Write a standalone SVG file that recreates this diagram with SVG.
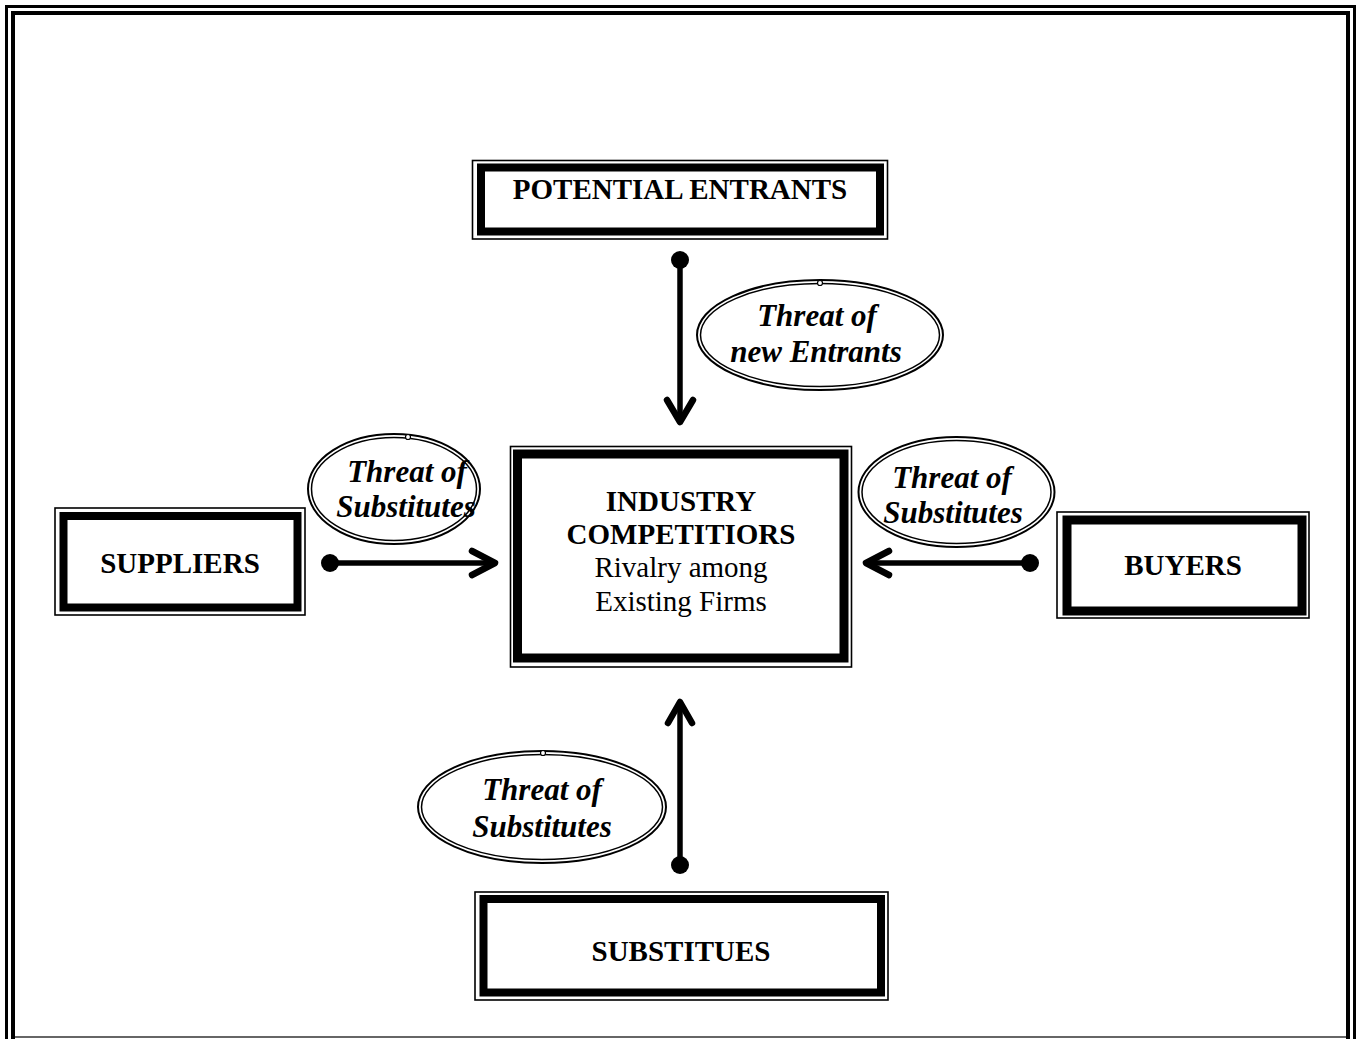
<svg xmlns="http://www.w3.org/2000/svg" width="1361" height="1039" viewBox="0 0 1361 1039">
<defs>
<style>
.thin{fill:none;stroke:#000;stroke-width:1.6}
.thick{fill:none;stroke:#000}
.bold{font-family:"Liberation Serif","Times New Roman",serif;font-weight:bold;font-size:29px;text-anchor:middle;fill:#000}
.reg{font-family:"Liberation Serif","Times New Roman",serif;font-size:29px;text-anchor:middle;fill:#000}
.ital{font-family:"Liberation Serif","Times New Roman",serif;font-weight:bold;font-style:italic;font-size:31px;text-anchor:middle;fill:#000}
.eo{fill:#fff;stroke:#000;stroke-width:2}
.ei{fill:none;stroke:#000;stroke-width:1.5}
.knob{fill:#fff;stroke:#000;stroke-width:1.2}
.line{fill:none;stroke:#000;stroke-width:5.5}
.head{fill:none;stroke:#000;stroke-width:6.5;stroke-linecap:round;stroke-linejoin:round}
.dot{fill:#000}
</style>
</defs>
<rect width="1361" height="1039" fill="#fff"/>
<g id="frame">
<rect x="6.5" y="6.5" width="1348" height="1100" fill="none" stroke="#000" stroke-width="3"/>
<rect x="13" y="13" width="1335" height="1100" fill="none" stroke="#000" stroke-width="4"/>
<line x1="15" y1="1037" x2="1346" y2="1037" stroke="#333" stroke-width="1.5"/>
</g>
<g id="connectors">
<line class="line" x1="680" y1="260" x2="680" y2="420"/>
<circle class="dot" cx="680" cy="260" r="9"/>
<polyline class="head" points="667,400 680,422 693,400"/>
<line class="line" x1="330" y1="563" x2="492" y2="563"/>
<circle class="dot" cx="330" cy="563" r="9"/>
<polyline class="head" points="472,551 495,563 472,575"/>
<line class="line" x1="1030" y1="563" x2="868" y2="563"/>
<circle class="dot" cx="1030" cy="563" r="9"/>
<polyline class="head" points="889,551 866,563 889,575"/>
<line class="line" x1="680" y1="865" x2="680" y2="705"/>
<circle class="dot" cx="680" cy="865" r="9"/>
<polyline class="head" points="668,723 680,702 692,723"/>
</g>
<g id="potential-entrants">
<rect class="thin" x="472.5" y="160.5" width="415" height="78.5"/>
<rect class="thick" stroke-width="8" x="481" y="167.5" width="399" height="64"/>
<text class="bold" x="680" y="199">POTENTIAL ENTRANTS</text>
</g>
<g id="industry-competitors">
<rect class="thin" x="510.5" y="446.5" width="341" height="220.5"/>
<rect class="thick" stroke-width="9" x="517.5" y="454" width="326.5" height="204"/>
<text class="bold" x="681" y="511">INDUSTRY</text>
<text class="bold" x="681" y="544">COMPETITIORS</text>
<text class="reg" x="681" y="577">Rivalry among</text>
<text class="reg" x="681" y="611">Existing Firms</text>
</g>
<g id="suppliers">
<rect class="thin" x="55" y="508" width="250" height="107"/>
<rect class="thick" stroke-width="8" x="63.5" y="516" width="234" height="91.5"/>
<text class="bold" x="180" y="573">SUPPLIERS</text>
</g>
<g id="buyers">
<rect class="thin" x="1057" y="512" width="252" height="106"/>
<rect class="thick" stroke-width="9" x="1067" y="520" width="235" height="91"/>
<text class="bold" x="1183" y="575">BUYERS</text>
</g>
<g id="substitues">
<rect class="thin" x="475" y="892" width="413" height="108"/>
<rect class="thick" stroke-width="8" x="483.5" y="899" width="397.5" height="93.5"/>
<text class="bold" x="681" y="961">SUBSTITUES</text>
</g>
<g id="threat-new-entrants">
<ellipse class="eo" cx="820" cy="335" rx="123" ry="55"/>
<ellipse class="ei" cx="820" cy="335" rx="119.5" ry="51.5"/>
<circle class="knob" cx="820" cy="283" r="2.5"/>
<text class="ital" x="817" y="326">Threat of</text>
<text class="ital" x="816" y="362">new Entrants</text>
</g>
<g id="threat-substitutes-left">
<ellipse class="eo" cx="394" cy="489" rx="86" ry="55"/>
<ellipse class="ei" cx="394" cy="489" rx="82.5" ry="51.5"/>
<circle class="knob" cx="408" cy="437" r="2.5"/>
<text class="ital" x="407" y="482">Threat of</text>
<text class="ital" x="406" y="517">Substitutes</text>
</g>
<g id="threat-substitutes-right">
<ellipse class="eo" cx="956.5" cy="492" rx="98" ry="55"/>
<ellipse class="ei" cx="956.5" cy="492" rx="94.5" ry="51.5"/>
<text class="ital" x="952" y="488">Threat of</text>
<text class="ital" x="953" y="523">Substitutes</text>
</g>
<g id="threat-substitutes-bottom">
<ellipse class="eo" cx="542" cy="807" rx="124" ry="56"/>
<ellipse class="ei" cx="542" cy="807" rx="120.5" ry="52.5"/>
<circle class="knob" cx="543" cy="753" r="2.5"/>
<text class="ital" x="542" y="800">Threat of</text>
<text class="ital" x="542" y="837">Substitutes</text>
</g>
</svg>
